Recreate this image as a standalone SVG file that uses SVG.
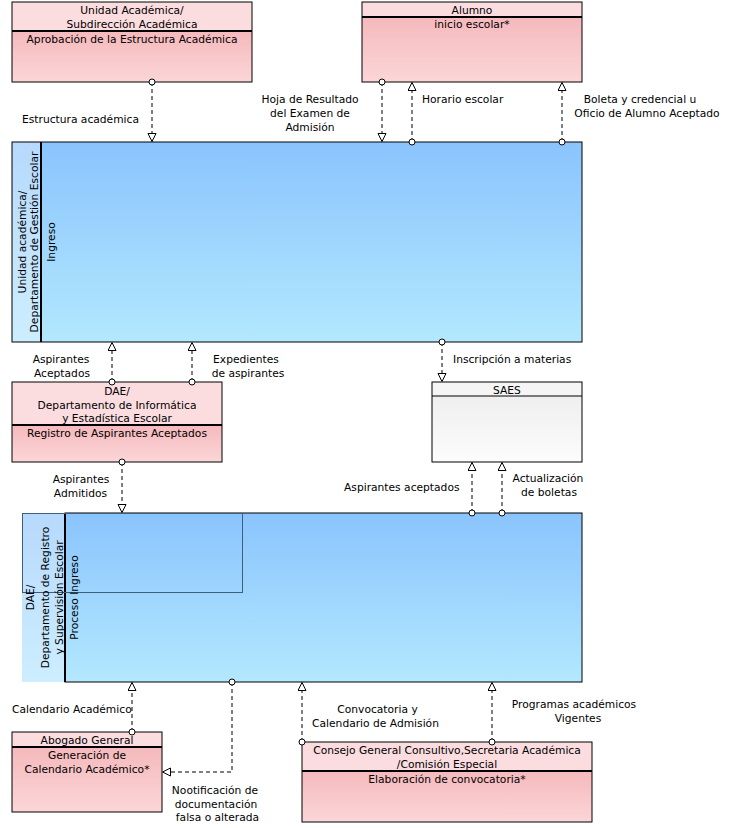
<svg xmlns="http://www.w3.org/2000/svg" width="733" height="828" viewBox="0 0 733 828">
<defs>
<linearGradient id="pinkBody" x1="0" y1="0" x2="0" y2="1"><stop offset="0" stop-color="#f5b9bc"/><stop offset="1" stop-color="#fbd6d8"/></linearGradient>
<linearGradient id="grayBody" x1="0" y1="0" x2="0" y2="1"><stop offset="0" stop-color="#efefef"/><stop offset="1" stop-color="#fcfcfc"/></linearGradient>
<linearGradient id="blueMain" x1="0" y1="0" x2="0" y2="1"><stop offset="0" stop-color="#8ac4fd"/><stop offset="1" stop-color="#b3e8fe"/></linearGradient>
<linearGradient id="blueStrip" x1="0" y1="0" x2="0" y2="1"><stop offset="0" stop-color="#b6d9fd"/><stop offset="1" stop-color="#cdeeff"/></linearGradient>
<marker id="dot" markerUnits="userSpaceOnUse" markerWidth="8" markerHeight="8" refX="4" refY="4" orient="auto"><circle cx="4" cy="4" r="3" fill="#fff" stroke="#000" stroke-width="1"/></marker>
<marker id="tri" markerUnits="userSpaceOnUse" markerWidth="10" markerHeight="10" refX="9" refY="4.5" orient="auto"><path d="M1,0.5 L9,4.5 L1,8.5 Z" fill="#fff" stroke="#000" stroke-width="1"/></marker>
</defs>
<style>
text{font-family:"DejaVu Sans","Liberation Sans",sans-serif;font-size:10.7px;fill:#000}
.c{text-anchor:middle}
.e{text-anchor:end}
.hdr{fill:#fbdde0;stroke:none}
.hdrg{fill:#f5f5f5;stroke:none}
.frame{fill:none;stroke:#000;stroke-width:1}
.sep{stroke:#000;stroke-width:2}
.conn{fill:none;stroke:#000;stroke-width:1;stroke-dasharray:4,3;marker-start:url(#dot);marker-end:url(#tri)}
</style>
<rect width="733" height="828" fill="#fff"/>

<g id="unidad-academica">
<rect x="12" y="2" width="240" height="29" class="hdr"/>
<rect x="12" y="31" width="240" height="51" fill="url(#pinkBody)"/>
<rect x="12" y="2" width="240" height="80" class="frame"/>
<line x1="12" y1="31" x2="252" y2="31" class="sep"/>
<text x="132" y="14" class="c">Unidad Académica/</text>
<text x="132" y="28" class="c">Subdirección Académica</text>
<text x="132" y="43" class="c">Aprobación de la Estructura Académica</text>
</g>

<g id="alumno">
<rect x="362" y="2" width="220" height="15" class="hdr"/>
<rect x="362" y="17" width="220" height="65" fill="url(#pinkBody)"/>
<rect x="362" y="2" width="220" height="80" class="frame"/>
<line x1="362" y1="17" x2="582" y2="17" class="sep"/>
<text x="472" y="14" class="c">Alumno</text>
<text x="472" y="28" class="c">inicio escolar*</text>
</g>

<g id="gestion-escolar">
<rect x="12" y="142" width="29" height="200" fill="url(#blueStrip)"/>
<rect x="41" y="142" width="541" height="200" fill="url(#blueMain)"/>
<rect x="12" y="142" width="570" height="200" class="frame"/>
<line x1="41" y1="142" x2="41" y2="342" class="sep"/>
<text transform="translate(26,242) rotate(-90)" class="c">Unidad académica/</text>
<text transform="translate(38,242) rotate(-90)" class="c">Departamento de Gestión Escolar</text>
<text transform="translate(55,242) rotate(-90)" class="c">Ingreso</text>
</g>

<g id="dae-informatica">
<rect x="12" y="382" width="210" height="43" class="hdr"/>
<rect x="12" y="425" width="210" height="37" fill="url(#pinkBody)"/>
<rect x="12" y="382" width="210" height="80" class="frame"/>
<line x1="12" y1="425" x2="222" y2="425" class="sep"/>
<text x="117" y="395" class="c">DAE/</text>
<text x="117" y="409" class="c">Departamento de Informática</text>
<text x="117" y="422" class="c">y Estadística Escolar</text>
<text x="117" y="437" class="c">Registro de Aspirantes Aceptados</text>
</g>

<g id="saes">
<rect x="432" y="382" width="150" height="14" class="hdrg"/>
<rect x="432" y="396" width="150" height="66" fill="url(#grayBody)"/>
<rect x="432" y="382" width="150" height="80" class="frame"/>
<line x1="432" y1="396" x2="582" y2="396" stroke="#000" stroke-width="1"/>
<text x="507" y="394" class="c">SAES</text>
</g>

<g id="dae-registro">
<rect x="22" y="513" width="43" height="169" fill="url(#blueStrip)"/>
<rect x="65" y="513" width="517" height="169" fill="url(#blueMain)"/>
<rect x="65" y="513" width="517" height="169" class="frame"/>
<line x1="65" y1="513" x2="65" y2="682" class="sep"/>
<rect x="22.5" y="513.5" width="220" height="79" fill="none" stroke="#3f5d7c" stroke-width="1"/>
<text transform="translate(34,597.5) rotate(-90)" class="c">DAE/</text>
<text transform="translate(48.5,597.5) rotate(-90)" class="c">Departamento de Registro</text>
<text transform="translate(63,597.5) rotate(-90)" class="c">y Supervisión Escolar</text>
<text transform="translate(77.5,597.5) rotate(-90)" class="c">Proceso Ingreso</text>
</g>

<g id="abogado-general">
<rect x="12" y="732" width="150" height="15" class="hdr"/>
<rect x="12" y="747" width="150" height="65" fill="url(#pinkBody)"/>
<rect x="12" y="732" width="150" height="80" class="frame"/>
<line x1="12" y1="747" x2="162" y2="747" class="sep"/>
<text x="87" y="744" class="c">Abogado General</text>
<text x="87" y="759" class="c">Generación de</text>
<text x="87" y="773" class="c">Calendario Académico*</text>
</g>

<g id="consejo-general">
<rect x="302" y="742" width="290" height="29" class="hdr"/>
<rect x="302" y="771" width="290" height="51" fill="url(#pinkBody)"/>
<rect x="302" y="742" width="290" height="80" class="frame"/>
<line x1="302" y1="771" x2="592" y2="771" class="sep"/>
<text x="447" y="754" class="c">Consejo General Consultivo,Secretaria Académica</text>
<text x="447" y="768" class="c">/Comisión Especial</text>
<text x="447" y="783" class="c">Elaboración de convocatoria*</text>
</g>

<g id="connectors">
<path d="M152,82 V141.5" class="conn"/>
<path d="M382,82 V141.5" class="conn"/>
<path d="M412,142 V82.5" class="conn"/>
<path d="M562,142 V82.5" class="conn"/>
<path d="M112,382 V342.5" class="conn"/>
<path d="M192,382 V342.5" class="conn"/>
<path d="M442,342 V381.5" class="conn"/>
<path d="M122,462 V512.5" class="conn"/>
<path d="M472,513 V462.5" class="conn"/>
<path d="M502,513 V462.5" class="conn"/>
<path d="M132,732 V682.5" class="conn"/>
<path d="M232,682 V772 H162.5" class="conn"/>
<path d="M302,742 V682.5" class="conn"/>
<path d="M492,742 V682.5" class="conn"/>
<text x="22" y="123">Estructura académica</text>
<text x="310" y="103" class="c">Hoja de Resultado</text>
<text x="310" y="117" class="c">del Examen de</text>
<text x="310" y="131" class="c">Admisión</text>
<text x="422" y="103">Horario escolar</text>
<text x="640" y="103" class="c">Boleta y credencial u</text>
<text x="647" y="117" class="c">Oficio de Alumno Aceptado</text>
<text x="61" y="363" class="c">Aspirantes</text>
<text x="62" y="377" class="c">Aceptados</text>
<text x="246" y="363" class="c">Expedientes</text>
<text x="248" y="377" class="c">de aspirantes</text>
<text x="453" y="363">Inscripción a materias</text>
<text x="81" y="483" class="c">Aspirantes</text>
<text x="80.5" y="497" class="c">Admitidos</text>
<text x="459.5" y="491" class="e">Aspirantes aceptados</text>
<text x="548" y="482" class="c">Actualización</text>
<text x="549" y="496" class="c">de boletas</text>
<text x="12" y="713">Calendario Académico</text>
<text x="215" y="794" class="c">Nootificación de</text>
<text x="216" y="808" class="c">documentación</text>
<text x="217.5" y="821" class="c">falsa o alterada</text>
<text x="377.5" y="713" class="c">Convocatoria y</text>
<text x="375.5" y="727" class="c">Calendario de Admisión</text>
<text x="574" y="708" class="c">Programas académicos</text>
<text x="578" y="722" class="c">Vigentes</text>
</g>
</svg>
